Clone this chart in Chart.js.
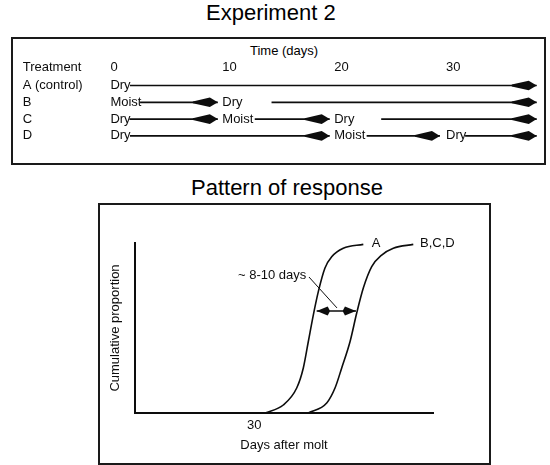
<!DOCTYPE html>
<html><head><meta charset="utf-8">
<script src="https://cdn.jsdelivr.net/npm/chart.js@4.4.1/dist/chart.umd.min.js"></script>
<style>
html,body{margin:0;padding:0;background:#fff;}
body{width:550px;height:465px;position:relative;overflow:hidden;font-family:"Liberation Sans",Arial,sans-serif;color:#000;}
.t{position:absolute;white-space:nowrap;line-height:22px;font-size:22px;}
.s{position:absolute;white-space:nowrap;line-height:15px;font-size:13px;}
.box{position:absolute;border:2px solid #1a1a1a;box-sizing:border-box;}
canvas{position:absolute;left:0;}
</style></head><body>
<div class="t" style="left:206px;top:2px">Experiment 2</div>
<div class="box" style="left:11px;top:37px;width:535px;height:128px"></div>
<div class="s" style="left:250px;top:43px">Time (days)</div>
<div class="t" style="left:191px;top:177px">Pattern of response</div>
<div class="box" style="left:98px;top:203px;width:393px;height:262px"></div>
<canvas id="c1" width="550" height="170" style="top:0;width:550px;height:170px"></canvas>
<canvas id="c2" width="550" height="265" style="top:200px;width:550px;height:265px"></canvas>
<script>
// ---------- Experiment 2 schedule ----------
const timeTicks = [0, 10, 20, 30];
const treatments = ['A (control)', 'B', 'C', 'D'];
// arrow segments [startDay, endDay] per treatment row
const segA = [[1.75, 38.1]];
const segB = [[2.65, 9.6], [14.4, 38.1]];
const segC = [[1.7, 9.6], [12.9, 19.6], [24.2, 38.1]];
const segD = [[1.75, 19.6], [22.9, 29.45], [31.7, 38.1]];
// condition labels [day, text] per treatment row
const stateA = [[0, 'Dry']];
const stateB = [[0, 'Moist'], [10, 'Dry']];
const stateC = [[0, 'Dry'], [10, 'Moist'], [20, 'Dry']];
const stateD = [[0, 'Dry'], [20, 'Moist'], [30, 'Dry']];

// ---------- Pattern of response ----------
const moltTicks = [30];
const curveADays = [32.17, 35.86, 38.56, 39.89, 40.89, 41.9, 42.91, 44.25, 45.6, 47.94, 51.97];
const curveAProp = [0, 0.047, 0.147, 0.265, 0.419, 0.576, 0.714, 0.853, 0.919, 0.969, 0.992];
const curveBDays = [40.89, 44.6, 46.27, 47.62, 49.29, 50.64, 51.97, 53.66, 55.67, 58.01, 62.03];
const curveBProp = [0, 0.059, 0.147, 0.265, 0.419, 0.588, 0.735, 0.861, 0.929, 0.969, 0.992];
const lagArrowDays = [42.58, 50.49];
const lagArrowProp = [0.6, 0.6];
const leaderDays = [41.03, 46.67];
const leaderProp = [0.8, 0.618];
const curveLabelText = ['A', 'B,C,D'];
const curveLabelDays = [53.65, 63.38];
const curveLabelProp = [0.998, 0.998];
const lagLabelText = '~ 8-10 days';
const lagLabelDay = 26.74;
const lagLabelProp = 0.812;

const INK = '#0d0d0d';
const FONT = {family: '"Liberation Sans", Arial, sans-serif', size: 13};
const FONTSTR = '13px "Liberation Sans", Arial, sans-serif';

function drawHead(ctx, from, to, h) {
  const ang = Math.atan2(to.y - from.y, to.x - from.x);
  ctx.save();
  ctx.translate(to.x, to.y);
  ctx.rotate(ang);
  ctx.beginPath();
  ctx.moveTo(0, 0);
  ctx.lineTo(-h.mid, -h.half);
  ctx.lineTo(-h.len, -h.tail);
  ctx.lineTo(-h.len, h.tail);
  ctx.lineTo(-h.mid, h.half);
  ctx.closePath();
  ctx.fill();
  ctx.restore();
}
const arrowPlugin = {
  id: 'arrowHeads',
  afterDatasetsDraw(chart) {
    const ctx = chart.ctx;
    chart.data.datasets.forEach((ds, i) => {
      const pts = chart.getDatasetMeta(i).data;
      if (pts.length < 2) return;
      ctx.save();
      ctx.fillStyle = ds.borderColor;
      if (ds.headEnd) drawHead(ctx, pts[pts.length - 2], pts[pts.length - 1], ds.headEnd);
      if (ds.headStart) drawHead(ctx, pts[1], pts[0], ds.headStart);
      ctx.restore();
    });
  }
};

const zip = (xs, ys) => xs.map((x, i) => ({x, y: ys[i]}));

// ----- top chart -----
const rowSegs = [segA, segB, segC, segD];
const rowStates = [stateA, stateB, stateC, stateD];
const topDatasets = [];
rowSegs.forEach((segs, row) => segs.forEach(([s, e]) => topDatasets.push({
  data: [{x: s, y: row}, {x: e, y: row}],
  borderColor: INK, borderWidth: 1.7, pointRadius: 0,
  headEnd: {len: 25, mid: 8, half: 4.8, tail: 0.9}
})));

const topLabels = {
  id: 'topLabels',
  afterDatasetsDraw(chart) {
    const ctx = chart.ctx, xs = chart.scales.x, ys = chart.scales.y;
    ctx.save();
    ctx.font = FONTSTR; ctx.fillStyle = INK;
    ctx.textBaseline = 'middle'; ctx.textAlign = 'left';
    ctx.fillText('Treatment', 22.7, chart.chartArea.top - 3 - 7.8);
    treatments.forEach((t, i) => ctx.fillText(t, 22.7, ys.getPixelForValue(i)));
    rowStates.forEach((st, i) => st.forEach(([d, txt]) =>
      ctx.fillText(txt, xs.getPixelForValue(d), ys.getPixelForValue(i))));
    ctx.restore();
  }
};

new Chart(document.getElementById('c1'), {
  type: 'line',
  data: {datasets: topDatasets},
  options: {
    responsive: false, animation: false, devicePixelRatio: 1,
    layout: {padding: {top: 56.2, bottom: 25.7, left: 110.4, right: 8.8}},
    plugins: {legend: {display: false}, tooltip: {enabled: false}},
    scales: {
      x: {type: 'linear', position: 'top', min: 0, max: 38.5,
        grid: {display: false, drawTicks: false}, border: {display: false},
        afterBuildTicks: s => { s.ticks = timeTicks.map(v => ({value: v})); },
        ticks: {font: FONT, color: INK, padding: 3, align: 'start', autoSkip: false, maxRotation: 0}
      },
      y: {type: 'linear', display: false, reverse: true, min: -0.46, max: 3.5}
    }
  },
  plugins: [arrowPlugin, topLabels]
});

// ----- bottom chart -----
const bottomLabels = {
  id: 'bottomLabels',
  afterDatasetsDraw(chart) {
    const ctx = chart.ctx, xs = chart.scales.x, ys = chart.scales.y;
    ctx.save();
    ctx.font = FONTSTR; ctx.fillStyle = INK;
    ctx.textBaseline = 'middle'; ctx.textAlign = 'left';
    curveLabelText.forEach((t, i) =>
      ctx.fillText(t, xs.getPixelForValue(curveLabelDays[i]), ys.getPixelForValue(curveLabelProp[i])));
    ctx.fillText(lagLabelText, xs.getPixelForValue(lagLabelDay), ys.getPixelForValue(lagLabelProp));
    ctx.restore();
  }
};

new Chart(document.getElementById('c2'), {
  type: 'line',
  data: {datasets: [
    {data: zip(curveADays, curveAProp), borderColor: INK, borderWidth: 1.6, pointRadius: 0, cubicInterpolationMode: 'monotone'},
    {data: zip(curveBDays, curveBProp), borderColor: INK, borderWidth: 1.6, pointRadius: 0, cubicInterpolationMode: 'monotone'},
    {data: zip(lagArrowDays, lagArrowProp), borderColor: INK, borderWidth: 1.4, pointRadius: 0,
      headStart: {len: 13, mid: 11, half: 4.5, tail: 0.7}, headEnd: {len: 13, mid: 11, half: 4.5, tail: 0.7}},
    {data: zip(leaderDays, leaderProp), borderColor: INK, borderWidth: 1, pointRadius: 0}
  ]},
  options: {
    responsive: false, animation: false, devicePixelRatio: 1,
    layout: {padding: {top: 43, bottom: 11.6, left: 107.2, right: 117}},
    plugins: {legend: {display: false}, tooltip: {enabled: false}},
    scales: {
      x: {type: 'linear', min: 6, max: 66,
        grid: {display: false, drawTicks: false}, border: {display: true, color: INK, width: 2},
        afterBuildTicks: s => { s.ticks = moltTicks.map(v => ({value: v})); },
        ticks: {font: FONT, color: INK, padding: 4.6, autoSkip: false, maxRotation: 0},
        title: {display: true, text: 'Days after molt', font: FONT, color: INK, padding: {top: 0, bottom: 0}}
      },
      y: {type: 'linear', min: 0, max: 1,
        grid: {display: false, drawTicks: false}, border: {display: true, color: INK, width: 2},
        ticks: {display: false},
        title: {display: true, text: 'Cumulative proportion', font: FONT, color: INK, padding: {top: 0, bottom: 12.2}}
      }
    }
  },
  plugins: [arrowPlugin, bottomLabels]
});
</script>
</body></html>
